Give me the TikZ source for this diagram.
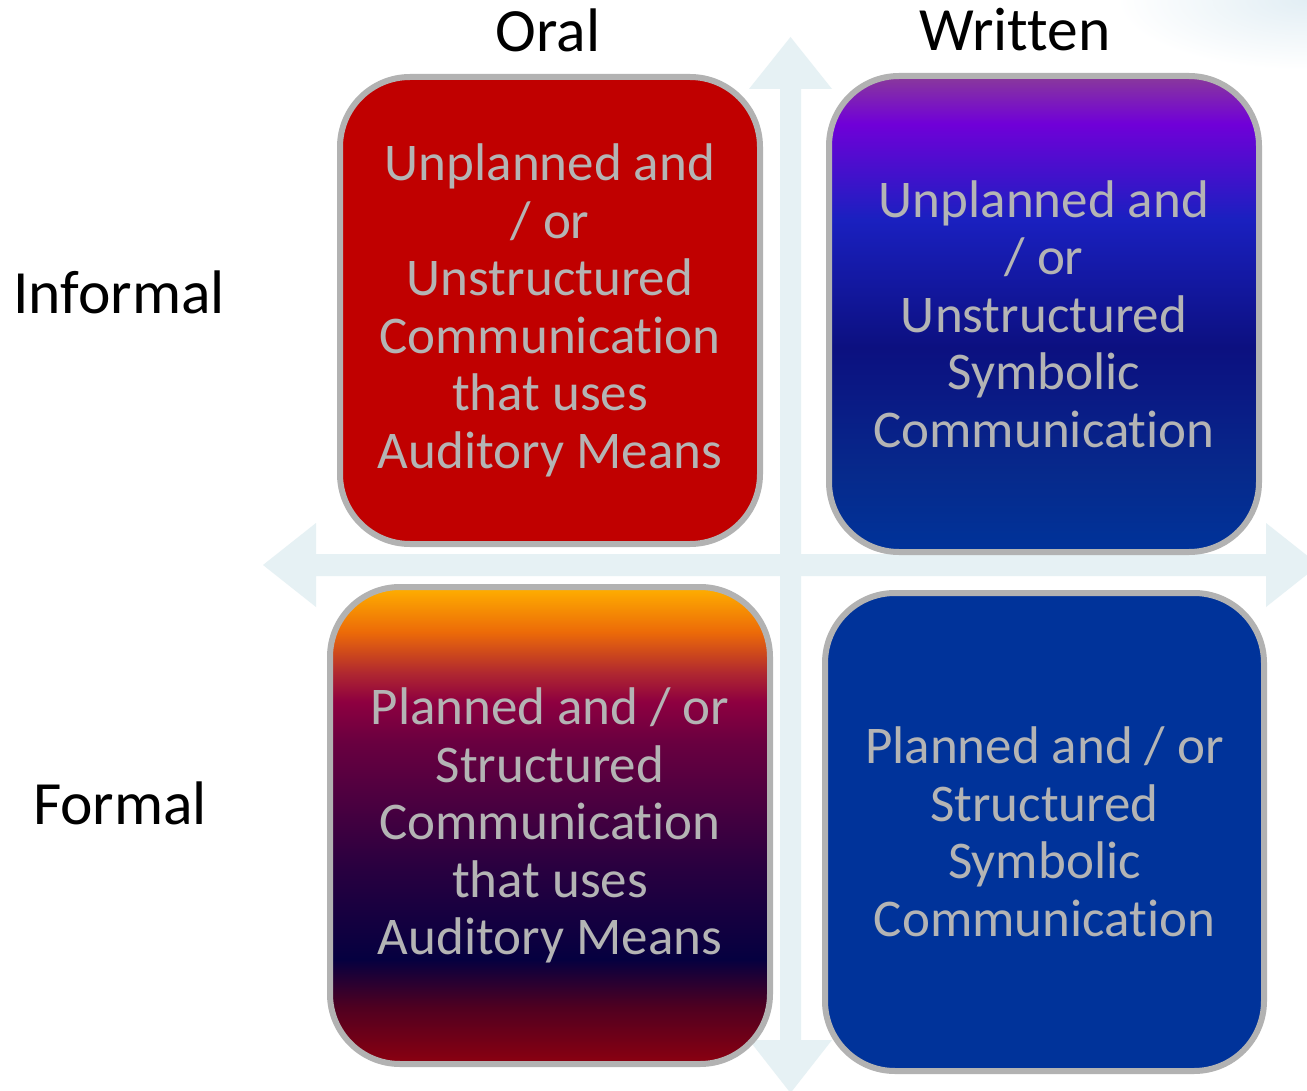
\documentclass[tikz,border=0pt]{standalone}
\usepackage{fontspec}
\setmainfont{Carlito}[Ligatures={NoCommon}]
\definecolor{arrowc}{HTML}{E6F1F4}
\definecolor{bordc}{HTML}{B2B2B2}
\definecolor{txtc}{HTML}{B4B4B4}
\definecolor{redc}{HTML}{C00000}
\definecolor{bluec}{HTML}{00339A}
\definecolor{hazec}{HTML}{E2EEF4}
\definecolor{p1}{HTML}{00339A}
\definecolor{p2}{HTML}{062A8C}
\definecolor{p3}{HTML}{0C1080}
\definecolor{p4}{HTML}{1A20C0}
\definecolor{p5}{HTML}{7000D8}
\definecolor{p6}{HTML}{8A3A9A}
% TikZ maps the path's box to 25bp..75bp of the shading
\pgfdeclareverticalshading{purpleblue}{100bp}{
  color(0bp)=(p1);
  color(25bp)=(p1);
  color(33bp)=(p2);
  color(46.5bp)=(p3);
  color(60bp)=(p4);
  color(70bp)=(p5);
  color(75bp)=(p6);
  color(100bp)=(p6)}
\definecolor{o1}{HTML}{8C0010}
\definecolor{o2}{HTML}{500020}
\definecolor{o3}{HTML}{050040}
\definecolor{o4}{HTML}{280040}
\definecolor{o5}{HTML}{6A0040}
\definecolor{o6}{HTML}{8E0040}
\definecolor{o7}{HTML}{B02830}
\definecolor{o8}{HTML}{EC6A08}
\definecolor{o9}{HTML}{FFB000}
\pgfdeclareverticalshading{sunset}{100bp}{
  color(0bp)=(o1);
  color(25bp)=(o1);
  color(30.9bp)=(o2);
  color(36bp)=(o3);
  color(45.4bp)=(o4);
  color(58.85bp)=(o5);
  color(63bp)=(o6);
  color(66bp)=(o7);
  color(70.25bp)=(o8);
  color(75bp)=(o9);
  color(100bp)=(o9)}
\tikzset{
  quad/.style={draw=bordc, line width=6pt, rounded corners=70pt, align=center,
    text=txtc, font=\fontsize{53}{57.5}\selectfont, inner sep=0pt},
  axislabel/.style={font=\fontsize{61.5}{68}\selectfont, text=black, inner sep=0pt},
  axisarrow/.style={fill=arrowc, draw=none}
}
\begin{document}
\begin{tikzpicture}[x=1pt,y=-1pt]
\useasboundingbox (0,0) rectangle (1307,1091);
\clip (0,0) rectangle (1307,1091);
\fill[white] (0,0) rectangle (1307,1091);
% faint haze top right
\shade[inner color=hazec, outer color=white] (1307,0) ellipse (190 and 70);
% vertical double arrow
\fill[axisarrow] (790.5,37) -- (832,89) -- (801,89) -- (801,1040) -- (832,1040)
  -- (790.5,1093) -- (749,1040) -- (780,1040) -- (780,89) -- (749,89) -- cycle;
% horizontal double arrow
\fill[axisarrow] (263,565) -- (316,523) -- (316,554) -- (1266,554) -- (1266,523)
  -- (1319,565) -- (1266,607) -- (1266,576) -- (316,576) -- (316,607) -- cycle;
% quadrants
\node[quad, fill=redc, minimum width=420pt, minimum height=467pt] (tl) at (550,310.5)
  {Unplanned and\\/ or\\Unstructured\\Communication\\that uses\\Auditory Means};
\node[quad, shading=purpleblue, minimum width=430pt, minimum height=476pt] (tr) at (1044,314)
  {Unplanned and\\/ or\\Unstructured\\Symbolic\\Communication};
\node[quad, shading=sunset, minimum width=440pt, minimum height=477pt] (bl) at (550,825.5)
  {Planned and / or\\Structured\\Communication\\that uses\\Auditory Means};
\node[quad, fill=bluec, minimum width=439pt, minimum height=478pt] (br) at (1044.5,832)
  {Planned and / or\\Structured\\Symbolic\\Communication};
% axis labels
\node[axislabel] (oral) at (548,30) {Oral};
\node[axislabel] (written) at (1015,30) {Written};
\node[axislabel] (informal) at (119,292) {Informal};
\node[axislabel] (formal) at (120,803) {Formal};
\end{tikzpicture}
\end{document}
